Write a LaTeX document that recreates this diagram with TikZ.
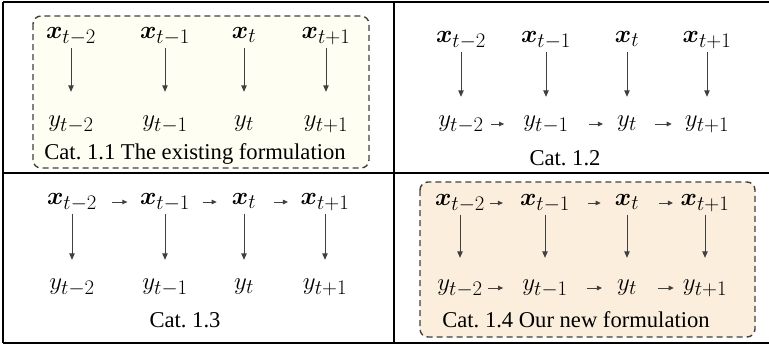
\documentclass[tikz,border=0pt]{standalone}
\usepackage{fontspec}
\setmainfont{Liberation Serif}
\usepackage{amsmath,bm}
\usetikzlibrary{arrows.meta}
\frenchspacing
\definecolor{arrowgray}{HTML}{404040}
\definecolor{boxone}{HTML}{FFFEF2}
\definecolor{boxfour}{HTML}{FBEEDC}
\tikzset{
  frameline/.style={line width=1.5pt, draw=black},
  dbox/.style={draw=arrowgray, line width=1.4pt, dash pattern=on 6pt off 4pt, rounded corners=8pt},
  lbl/.style={inner sep=0pt, text height=14pt, text depth=9pt, font=\fontsize{29}{34}\selectfont},
  captxt/.style={inner sep=0pt, anchor=base, font=\fontsize{22.6}{27}\selectfont\frenchspacing},
  varr/.style={draw=arrowgray, line width=0.9pt, -{Triangle[length=6.5pt,width=5.5pt]}},
  harr/.style 2 args={draw=arrowgray, line width=0.9pt, -{Triangle[length=5pt,width=4.5pt]}, shorten <=#1pt, shorten >=#2pt}
}
\begin{document}
\begin{tikzpicture}[x=1pt,y=-1pt]
\useasboundingbox (0,0) rectangle (769,349);
% backgrounds
\fill[white] (0,0) rectangle (769,349);
\filldraw[fill=boxone, dbox] (33,16) rectangle (369,168);
\filldraw[fill=boxfour, dbox] (420,182) rectangle (755,337);
% frame
\draw[frameline] (3,2) -- (769,2);
\draw[frameline] (3,343) -- (769,343);
\draw[frameline] (3,2) -- (3,343);
\draw[frameline] (394,2) -- (394,343);
\draw[frameline] (3,173) -- (769,173);
% labels
\def\xa{\bm{x}_{t-2}}\def\xb{\bm{x}_{t-1}}\def\xc{\bm{x}_{t}}\def\xd{\bm{x}_{t+1}}
\def\ya{y_{t-2}}\def\yb{y_{t-1}}\def\yc{y_{t}}\def\yd{y_{t+1}}
% panel 1
\node[lbl] (p1x1) at (71,36) {$\xa$};
\node[lbl] (p1x2) at (165,36) {$\xb$};
\node[lbl] (p1x3) at (244,36) {$\xc$};
\node[lbl] (p1x4) at (326,36) {$\xd$};
\node[lbl] (p1y1) at (71,124) {$\ya$};
\node[lbl] (p1y2) at (165,124) {$\yb$};
\node[lbl] (p1y3) at (244,124) {$\yc$};
\node[lbl] (p1y4) at (326,124) {$\yd$};
\node[captxt] (p1c) at (195,159) {Cat. 1.1 The existing formulation};
% panel 2
\node[lbl] (p2x1) at (461,40) {$\xa$};
\node[lbl] (p2x2) at (546,40) {$\xb$};
\node[lbl] (p2x3) at (627,40) {$\xc$};
\node[lbl] (p2x4) at (707,40) {$\xd$};
\node[lbl] (p2y1) at (461,124) {$\ya$};
\node[lbl] (p2y2) at (546,124) {$\yb$};
\node[lbl] (p2y3) at (627,124) {$\yc$};
\node[lbl] (p2y4) at (707,124) {$\yd$};
\node[captxt] (p2c) at (565,165) {Cat. 1.2};
% panel 3
\node[lbl] (p3x1) at (72,202) {$\xa$};
\node[lbl] (p3x2) at (165,202) {$\xb$};
\node[lbl] (p3x3) at (244,202) {$\xc$};
\node[lbl] (p3x4) at (325,202) {$\xd$};
\node[lbl] (p3y1) at (72,287) {$\ya$};
\node[lbl] (p3y2) at (165,287) {$\yb$};
\node[lbl] (p3y3) at (244,287) {$\yc$};
\node[lbl] (p3y4) at (325,287) {$\yd$};
\node[captxt] (p3c) at (185,327) {Cat. 1.3};
% panel 4
\node[lbl] (p4x1) at (460,203) {$\xa$};
\node[lbl] (p4x2) at (545,203) {$\xb$};
\node[lbl] (p4x3) at (627,203) {$\xc$};
\node[lbl] (p4x4) at (705,203) {$\xd$};
\node[lbl] (p4y1) at (460,288) {$\ya$};
\node[lbl] (p4y2) at (545,288) {$\yb$};
\node[lbl] (p4y3) at (627,288) {$\yc$};
\node[lbl] (p4y4) at (705,288) {$\yd$};
\node[captxt] (p4c) at (576,327) {Cat. 1.4 Our new formulation};
% vertical arrows
\foreach \i in {1,...,4}{
  \draw[varr, shorten <=0.5pt, shorten >=20.5pt] (p1x\i.south) -- (p1y\i.north);
  \draw[varr, shorten <=0.5pt, shorten >=15.5pt] (p2x\i.south) -- (p2y\i.north);
  \draw[varr, shorten <=0pt, shorten >=15.5pt] (p3x\i.south) -- (p3y\i.north);
  \draw[varr, shorten <=0pt, shorten >=18.5pt] (p4x\i.south) -- (p4y\i.north);
}
% horizontal arrows
\draw[harr={7}{19}] (p2y1) -- (p2y2);
\draw[harr={20}{14}] (p2y2) -- (p2y3);
\draw[harr={18}{13}] (p2y3) -- (p2y4);
\draw[harr={14.5}{12.5}] (p3x1) -- (p3x2);
\draw[harr={12.5}{15}] (p3x2) -- (p3x3);
\draw[harr={18}{12.5}] (p3x3) -- (p3x4);
\draw[harr={5}{17}] (p4x1) -- (p4x2);
\draw[harr={17.5}{14}] (p4x2) -- (p4x3);
\draw[harr={20}{7.5}] (p4x3) -- (p4x4);
\draw[harr={5}{19}] (p4y1) -- (p4y2);
\draw[harr={19}{15}] (p4y2) -- (p4y3);
\draw[harr={21}{9}] (p4y3) -- (p4y4);
\end{tikzpicture}
\end{document}
